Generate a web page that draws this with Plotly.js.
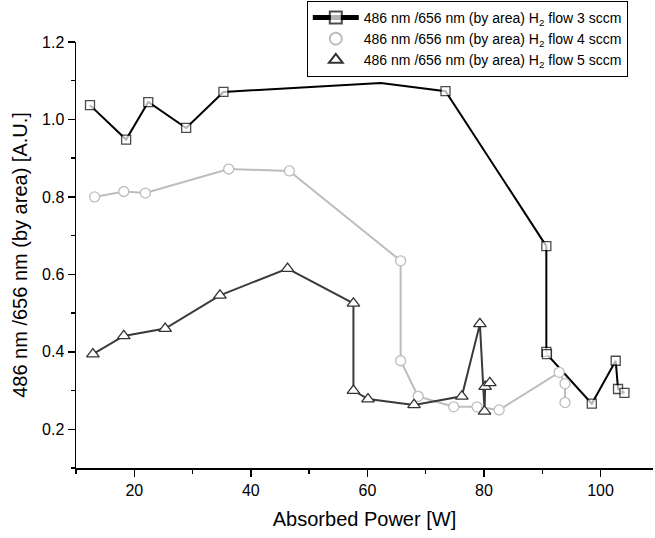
<!DOCTYPE html>
<html>
<head>
<meta charset="utf-8">
<script src="https://cdn.plot.ly/plotly-3.0.1.min.js"></script>
<style>html,body{margin:0;padding:0;background:#fff;}#chart{width:655px;height:538px;}</style>
</head>
<body>
<div id="chart"></div>
<script>
// Series: 486 nm / 656 nm ratio (by area) vs absorbed power
const sq3X = [12.4, 18.6, 22.4, 28.9, 35.3, 62.3, 73.4, 90.7, 90.7, 90.8, 98.5, 102.6, 103.0, 104.1];
const sq3Y = [1.037, 0.948, 1.045, 0.978, 1.071, 1.094, 1.073, 0.673, 0.400, 0.394, 0.266, 0.377, 0.304, 0.294];
const sq3Hidden = 5; // point whose marker is not drawn in the original

const circ4X = [13.2, 18.2, 21.9, 36.2, 46.6, 65.7, 65.7, 68.7, 74.8, 78.8, 82.6, 92.9, 93.9, 93.9];
const circ4Y = [0.800, 0.814, 0.810, 0.872, 0.867, 0.635, 0.377, 0.285, 0.258, 0.258, 0.250, 0.347, 0.318, 0.269];

const tri5X = [12.9, 18.2, 25.3, 34.7, 46.3, 57.6, 57.6, 60.1, 68.0, 76.2, 79.3, 80.1, 80.2, 81.0];
const tri5Y = [0.394, 0.441, 0.460, 0.546, 0.615, 0.525, 0.300, 0.278, 0.263, 0.285, 0.472, 0.246, 0.310, 0.320];

const names = [
  '486 nm /656 nm (by area) H<sub>2</sub> flow 3 sccm',
  '486 nm /656 nm (by area) H<sub>2</sub> flow 4 sccm',
  '486 nm /656 nm (by area) H<sub>2</sub> flow 5 sccm'
];
const xTitle = 'Absorbed Power [W]';
const yTitle = '486 nm /656 nm (by area) [A.U.]';

const FONT = 'Liberation Sans, Arial, sans-serif';
const sqSizes = sq3X.map((_, i) => i === sq3Hidden ? 0 : 9);

const traces = [
  { x: circ4X, y: circ4Y, mode: 'lines', line: {color: '#bdbdbd', width: 2}, showlegend: false, hoverinfo: 'skip' },
  { x: tri5X, y: tri5Y, mode: 'lines', line: {color: '#3a3a3a', width: 2}, showlegend: false, hoverinfo: 'skip' },
  { x: sq3X, y: sq3Y, mode: 'lines+markers', name: names[0],
    line: {color: '#000', width: 2},
    marker: {symbol: 'square', size: sqSizes, color: '#fff', line: {color: '#000', width: 1.3}} },
  { x: circ4X, y: circ4Y, mode: 'markers', name: names[1],
    marker: {symbol: 'circle', size: 10, color: '#fff', line: {color: '#bdbdbd', width: 1.3}} },
  { x: tri5X, y: tri5Y, mode: 'markers', name: names[2],
    marker: {symbol: 'triangle-up', size: 11, color: '#fff', line: {color: '#333', width: 1.3}} }
];

const layout = {
  width: 655, height: 538,
  margin: {l: 76, r: 2, t: 41, b: 70},
  paper_bgcolor: '#fff', plot_bgcolor: '#fff',
  font: {family: FONT, size: 16, color: '#000'},
  showlegend: true,
  legend: {
    x: 0.4, xanchor: 'left', y: 1.094, yanchor: 'top',
    bgcolor: '#fff', bordercolor: '#000', borderwidth: 1,
    font: {family: FONT, size: 14, color: '#000'},
    itemsizing: 'constant', itemwidth: 46, tracegroupgap: 0
  },
  xaxis: {
    range: [10, 109], tick0: 0, dtick: 20,
    showgrid: false, zeroline: false,
    showline: true, linecolor: '#000', linewidth: 1.5, mirror: false,
    ticks: 'outside', ticklen: 7, tickwidth: 1.5, tickcolor: '#000',
    minor: {dtick: 10, tick0: 0, ticks: 'outside', ticklen: 4, tickwidth: 1.5, tickcolor: '#000'},
    tickfont: {family: FONT, size: 16, color: '#000'},
    title: {text: xTitle, font: {family: FONT, size: 20, color: '#000'}, standoff: 14}
  },
  yaxis: {
    range: [0.1, 1.2], tick0: 0.2, dtick: 0.2, tickformat: '.1f',
    showgrid: false, zeroline: false,
    showline: true, linecolor: '#000', linewidth: 1.5, mirror: false,
    ticks: 'outside', ticklen: 7, tickwidth: 1.5, tickcolor: '#000',
    minor: {dtick: 0.1, tick0: 0.1, ticks: 'outside', ticklen: 4, tickwidth: 1.5, tickcolor: '#000'},
    tickfont: {family: FONT, size: 16, color: '#000'},
    title: {text: yTitle, font: {family: FONT, size: 20, color: '#000'}, standoff: 9}
  }
};

Plotly.newPlot('chart', traces, layout, {displayModeBar: false, staticPlot: true});
</script>
</body>
</html>
